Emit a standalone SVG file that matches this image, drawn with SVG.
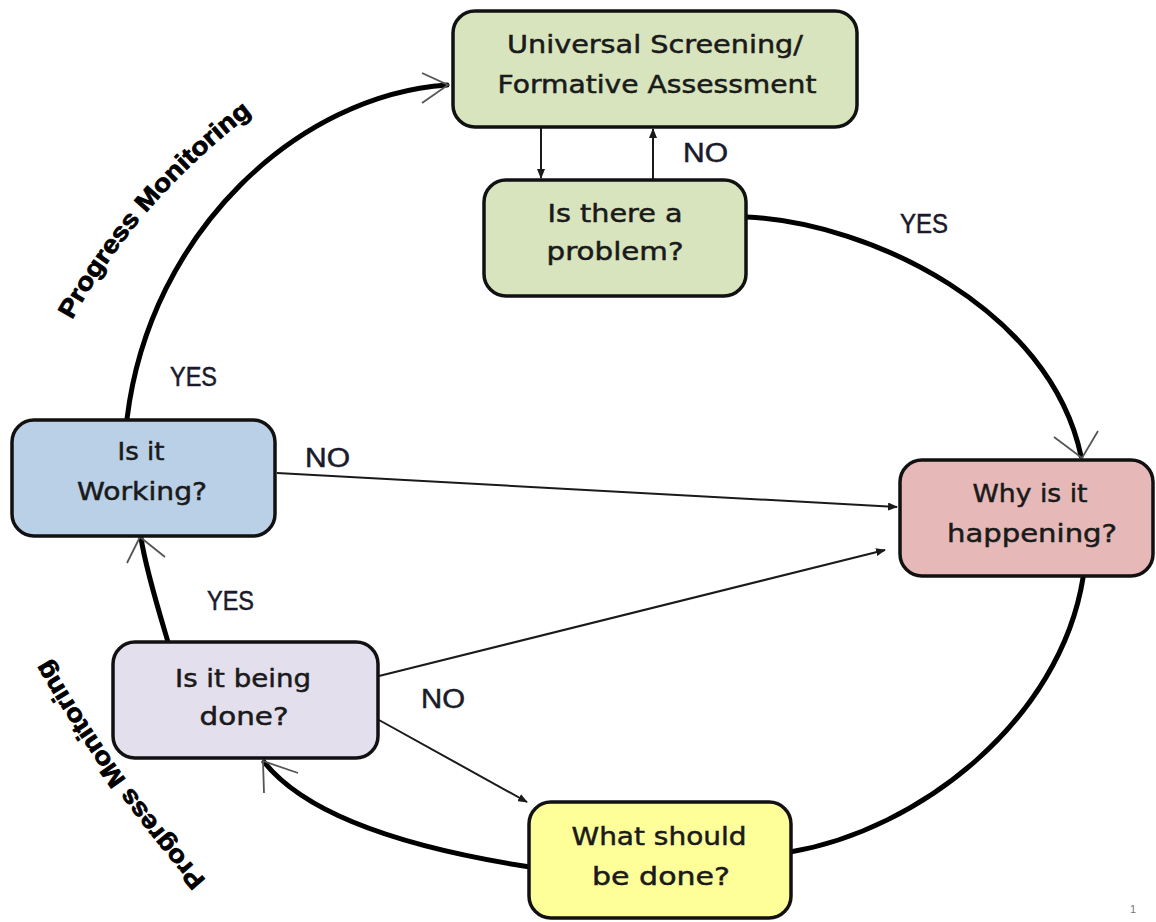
<svg xmlns="http://www.w3.org/2000/svg" width="1156" height="922" viewBox="0 0 1156 922">
<style>
.box{stroke:#111;stroke-width:3.5}
.t{font-family:"DejaVu Sans","Liberation Sans",sans-serif;font-size:25px;fill:#1a1a1a;stroke:#1a1a1a;stroke-width:0.5;text-anchor:middle}
.lbl{font-family:"Liberation Sans",Arial,sans-serif;font-size:27px;fill:#1a1a2a;stroke:#1a1a2a;stroke-width:0.5}
.thick{fill:none;stroke:#000;stroke-width:5;stroke-linecap:round}
.thin{fill:none;stroke:#1a1a1a;stroke-width:2}
.head{fill:none;stroke:#555;stroke-width:1.8}
.pm{font-family:"Liberation Sans",Arial,sans-serif;font-size:25px;font-weight:bold;fill:#000;stroke:#000;stroke-width:0.8}
</style>
<defs>
<marker id="ah" markerWidth="10" markerHeight="8" refX="9" refY="4" orient="auto" markerUnits="userSpaceOnUse"><path d="M0,0 L10,4 L0,8 z" fill="#1a1a1a"/></marker>
<path id="pm1" d="M 72 320 Q 138 200 254 112"/>
<path id="pm2" d="M 206 880 Q 122 785 50 662"/>
</defs>
<rect width="1156" height="922" fill="#fff"/>

<g id="connectors">
<path class="thin" d="M 541 128 L 541 178" marker-end="url(#ah)"/>
<path class="thin" d="M 653 179 L 653 129" marker-end="url(#ah)"/>
<path class="thick" d="M 747 217 C 872 223 1050 310 1081 456"/>
<path class="head" d="M 1054 437 L 1082 458 L 1098 431"/>
<path class="thin" d="M 277 473 L 897 507" marker-end="url(#ah)"/>
<path class="thin" d="M 379 676 L 885 550" marker-end="url(#ah)"/>
<path class="thin" d="M 379 720 L 527 802" marker-end="url(#ah)"/>
<path class="thick" d="M 1083 578 C 1060 720 920 830 790 852"/>
<path class="thick" d="M 530 867 C 420 850 310 820 264 762"/>
<path class="head" d="M 264 793 L 263 761 L 298 773"/>
<path class="thick" d="M 168 642 C 160 615 146 570 141 538"/>
<path class="head" d="M 127 563 L 140 537 L 165 557"/>
<path class="thick" d="M 127 419 C 150 230 300 95 447 85"/>
<path class="head" d="M 422 73 L 448 85 L 422 103"/>
</g>

<g id="labels">
<text class="lbl" x="683" y="162" textLength="45" lengthAdjust="spacingAndGlyphs">NO</text>
<text class="lbl" x="900" y="233" textLength="48" lengthAdjust="spacingAndGlyphs">YES</text>
<text class="lbl" x="305" y="467" textLength="45" lengthAdjust="spacingAndGlyphs">NO</text>
<text class="lbl" x="170" y="386" textLength="47" lengthAdjust="spacingAndGlyphs">YES</text>
<text class="lbl" x="207" y="610" textLength="47" lengthAdjust="spacingAndGlyphs">YES</text>
<text class="lbl" x="421" y="708" textLength="44" lengthAdjust="spacingAndGlyphs">NO</text>
<text class="pm"><textPath href="#pm1" textLength="122" lengthAdjust="spacingAndGlyphs">Progress</textPath></text>
<text class="pm"><textPath href="#pm1" startOffset="130" textLength="146" lengthAdjust="spacingAndGlyphs">Monitoring</textPath></text>
<text class="pm"><textPath href="#pm2" textLength="120" lengthAdjust="spacingAndGlyphs">Progress</textPath></text>
<text class="pm"><textPath href="#pm2" startOffset="128" textLength="144" lengthAdjust="spacingAndGlyphs">Monitoring</textPath></text>
<text x="1130" y="913" font-family="Liberation Sans, sans-serif" font-size="11" fill="#777">1</text>
</g>

<g id="universal-screening">
<rect class="box" x="453" y="11" width="404" height="116" rx="22" fill="#d7e4bd"/>
<text class="t" x="655" y="53" textLength="296" lengthAdjust="spacingAndGlyphs">Universal Screening/</text>
<text class="t" x="657" y="93" textLength="319" lengthAdjust="spacingAndGlyphs">Formative Assessment</text>
</g>

<g id="is-there-a-problem">
<rect class="box" x="484" y="180" width="262" height="116" rx="22" fill="#d7e4bd"/>
<text class="t" x="615" y="222" textLength="135" lengthAdjust="spacingAndGlyphs">Is there a</text>
<text class="t" x="615" y="260" textLength="137" lengthAdjust="spacingAndGlyphs">problem?</text>
</g>

<g id="is-it-working">
<rect class="box" x="12" y="420" width="263" height="116" rx="22" fill="#b9d0e6"/>
<text class="t" x="141" y="460" textLength="47" lengthAdjust="spacingAndGlyphs">Is it</text>
<text class="t" x="142" y="500" textLength="130" lengthAdjust="spacingAndGlyphs">Working?</text>
</g>

<g id="why-is-it-happening">
<rect class="box" x="900" y="460" width="253" height="116" rx="22" fill="#e6b9b8"/>
<text class="t" x="1030" y="502" textLength="115" lengthAdjust="spacingAndGlyphs">Why is it</text>
<text class="t" x="1032" y="542" textLength="170" lengthAdjust="spacingAndGlyphs">happening?</text>
</g>

<g id="is-it-being-done">
<rect class="box" x="113" y="642" width="265" height="116" rx="22" fill="#e4dfec"/>
<text class="t" x="243" y="687" textLength="136" lengthAdjust="spacingAndGlyphs">Is it being</text>
<text class="t" x="244" y="725" textLength="89" lengthAdjust="spacingAndGlyphs">done?</text>
</g>

<g id="what-should-be-done">
<rect class="box" x="529" y="802" width="262" height="116" rx="22" fill="#ffff99"/>
<text class="t" x="659" y="845" textLength="175" lengthAdjust="spacingAndGlyphs">What should</text>
<text class="t" x="661" y="885" textLength="138" lengthAdjust="spacingAndGlyphs">be done?</text>
</g>
</svg>
